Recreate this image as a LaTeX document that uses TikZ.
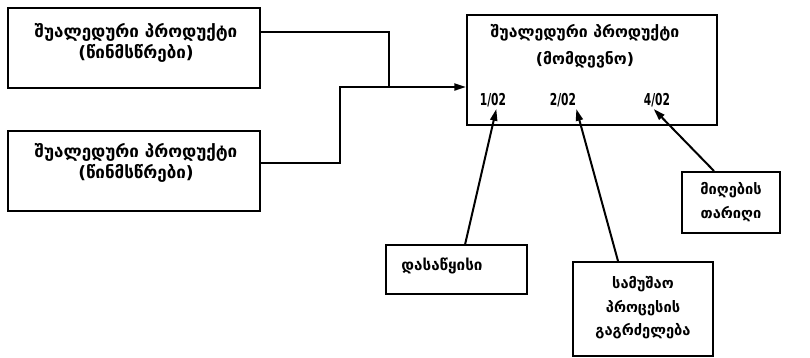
\documentclass[tikz,border=0pt]{standalone}
\usepackage{fontspec}
\setmainfont{DejaVu Sans}
\newfontfamily\narrowfont[FakeStretch=0.65]{DejaVu Sans}
\usetikzlibrary{arrows.meta}

\begin{document}
\begin{tikzpicture}[x=0.03cm, y=-0.03cm, line width=1.7pt,
        box/.style={draw, rectangle, inner sep=0pt},
        txt/.style={font=\bfseries\fontsize{14.5}{18}\selectfont, align=center, inner sep=0pt},
        num/.style={font=\narrowfont\bfseries\fontsize{14}{15}\selectfont, inner sep=1pt},
        pointer/.style={-{Triangle[length=10pt, width=6pt]}}]
    \useasboundingbox (0, 0) rectangle (810, 357);

    % boxes
    \draw
        (134, 48)    node (pa)   [box, minimum width=7.56cm, minimum height=2.4cm] {}
        (134, 171)   node (pb)   [box, minimum width=7.56cm, minimum height=2.4cm] {}
        (592, 70)    node (next) [box, minimum width=7.5cm, minimum height=3.3cm] {}
        (456.5, 269.5) node (start) [box, minimum width=4.23cm, minimum height=1.47cm] {}
        (643, 309)   node (work) [box, minimum width=4.2cm, minimum height=2.82cm] {}
        (731, 202.5) node (date) [box, minimum width=2.94cm, minimum height=1.83cm] {};

    % texts
    \node (ta) [txt] at (136, 42.5) {შუალედური პროდუქტი\\(წინმსწრები)};
    \node (tb) [txt] at (136, 162.5) {შუალედური პროდუქტი\\(წინმსწრები)};
    \node (tn) [txt, font=\bfseries\fontsize{13.5}{18}\selectfont] at (585, 46.5) {შუალედური პროდუქტი\\[5pt](მომდევნო)};
    \node (ts) [txt, font=\bfseries\fontsize{13}{18}\selectfont] at (442, 266) {დასაწყისი};
    \node (tw) [txt, font=\bfseries\fontsize{12.5}{20}\selectfont] at (643, 308) {სამუშაო\\პროცესის\\გაგრძელება};
    \node (td) [txt, font=\bfseries\fontsize{12.5}{20}\selectfont] at (731, 202) {მიღების\\თარიღი};

    % dates
    \node (l1) [num] at (493, 100) {1/02};
    \node (l2) [num] at (563, 100) {2/02};
    \node (l4) [num] at (657, 100) {4/02};

    % joins
    \coordinate (j1) at (389, 87);
    \coordinate (j2) at (340, 87);

    \draw ([yshift=0.48cm]pa.east) -| (j1);
    \draw[pointer] ([yshift=0.24cm]pb.east) -| (j2) -- (j2 -| next.west);

    \draw[pointer] ([xshift=0.26cm]start.north) -- ([xshift=0.1cm]l1.south);
    \draw[pointer] ([xshift=-0.75cm]work.north) -- ([xshift=0.4cm]l2.south);
    \draw[pointer] ([xshift=-0.51cm]date.north) -- ([xshift=-0.1cm]l4.south);
\end{tikzpicture}
\end{document}
